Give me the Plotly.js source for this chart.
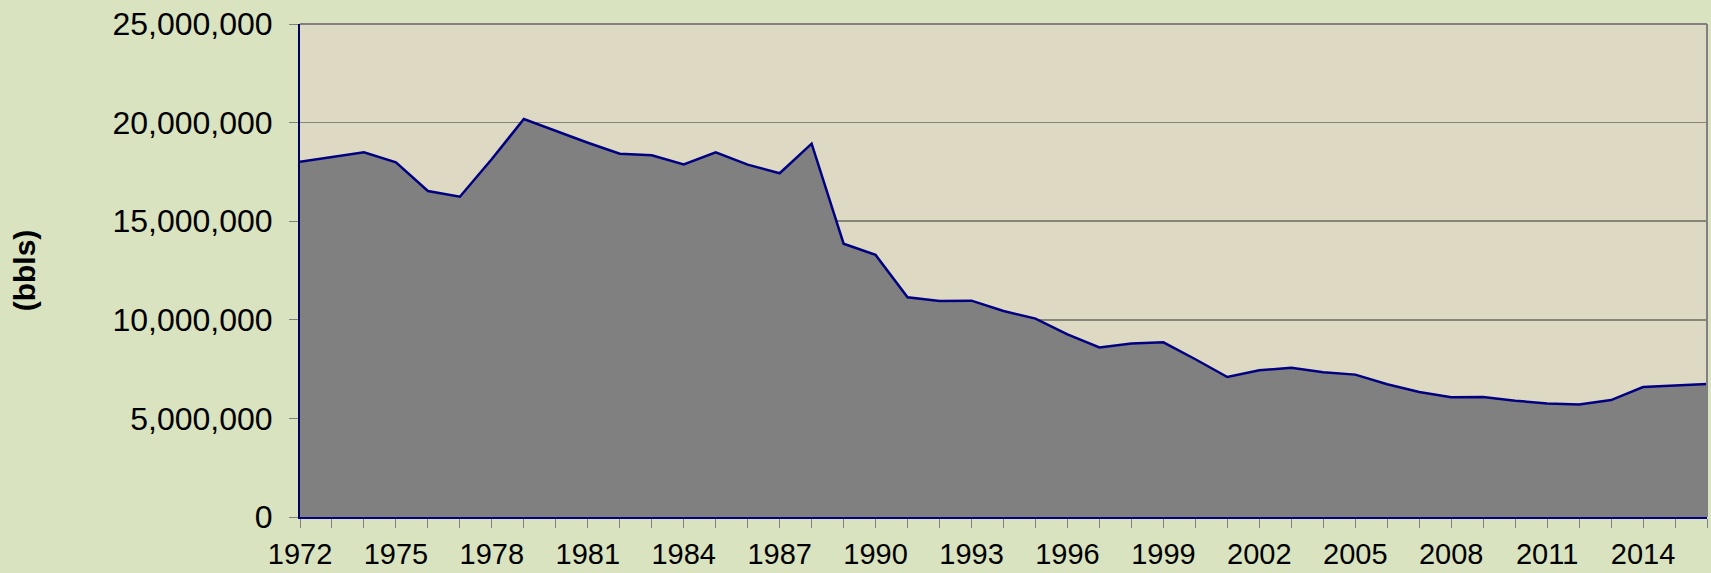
<!DOCTYPE html>
<html>
<head>
<meta charset="utf-8">
<script src="https://cdn.plot.ly/plotly-3.0.1.min.js"></script>
<style>html,body{margin:0;padding:0;background:#d9e3bf;}#chart{width:1711px;height:573px;}</style>
</head>
<body>
<div id="chart"></div>
<script>
const years = [1972,1973,1974,1975,1976,1977,1978,1979,1980,1981,1982,1983,1984,1985,1986,1987,1988,1989,1990,1991,1992,1993,1994,1995,1996,1997,1998,1999,2000,2001,2002,2003,2004,2005,2006,2007,2008,2009,2010,2011,2012,2013,2014,2015,2016];
const production = [18020000,18260000,18490000,17990000,16530000,16240000,18150000,20180000,19560000,18980000,18420000,18340000,17880000,18490000,17870000,17430000,18930000,13860000,13290000,11140000,10950000,10970000,10450000,10060000,9260000,8600000,8800000,8860000,8000000,7100000,7440000,7570000,7340000,7220000,6730000,6340000,6070000,6090000,5900000,5760000,5710000,5930000,6590000,6660000,6740000];
const xTickLabels = ['1972','1975','1978','1981','1984','1987','1990','1993','1996','1999','2002','2005','2008','2011','2014'];
const yTickValues = [0,5000000,10000000,15000000,20000000,25000000];
const yTickLabels = ['0','5,000,000','10,000,000','15,000,000','20,000,000','25,000,000'];

const tickText = years.map(y => xTickLabels.includes(String(y)) ? String(y) : '');
const FONT = 'Liberation Sans, Arial, sans-serif';

const trace = {
  x: years, y: production, type: 'scatter', mode: 'lines',
  fill: 'tozeroy', fillcolor: '#808080',
  line: {color: '#000080', width: 2.5},
  hoverinfo: 'x+y'
};

const layout = {
  width: 1711, height: 573,
  paper_bgcolor: '#d9e3bf', plot_bgcolor: '#ded9c3',
  margin: {l: 300, r: 4, t: 24, b: 56, pad: 0},
  showlegend: false,
  font: {family: FONT, color: '#000000', size: 29},
  xaxis: {
    range: [years[0], years[years.length-1]],
    tickmode: 'array', tickvals: years, ticktext: tickText,
    ticks: 'outside', ticklen: 9, tickwidth: 1, tickcolor: '#808080',
    ticklabelstandoff: 1,
    showgrid: false, zeroline: false,
    showline: true, linecolor: '#000080', linewidth: 2,
    tickfont: {size: 29, family: FONT}
  },
  yaxis: {
    range: [0, 25000000],
    tickmode: 'array', tickvals: yTickValues, ticktext: yTickLabels,
    ticks: 'outside', ticklen: 9, tickwidth: 1, tickcolor: '#808080',
    ticklabelstandoff: 10,
    showgrid: true, gridcolor: '#858578', gridwidth: 1.5,
    zeroline: false,
    showline: true, linecolor: '#000060', linewidth: 2,
    tickfont: {size: 32, family: FONT},
    title: {text: '<b>(bbls)</b>', font: {size: 30, family: FONT}, standoff: 68}
  },
  shapes: [
    {type: 'line', xref: 'paper', yref: 'paper', x0: 1, x1: 1, y0: 0, y1: 1, line: {color: '#808080', width: 2}, layer: 'above'},
    {type: 'line', xref: 'paper', yref: 'paper', x0: 0, x1: 1, y0: 1, y1: 1, line: {color: '#808080', width: 2}, layer: 'above'}
  ]
};

Plotly.newPlot('chart', [trace], layout, {displayModeBar: false, staticPlot: true});
</script>
</body>
</html>
